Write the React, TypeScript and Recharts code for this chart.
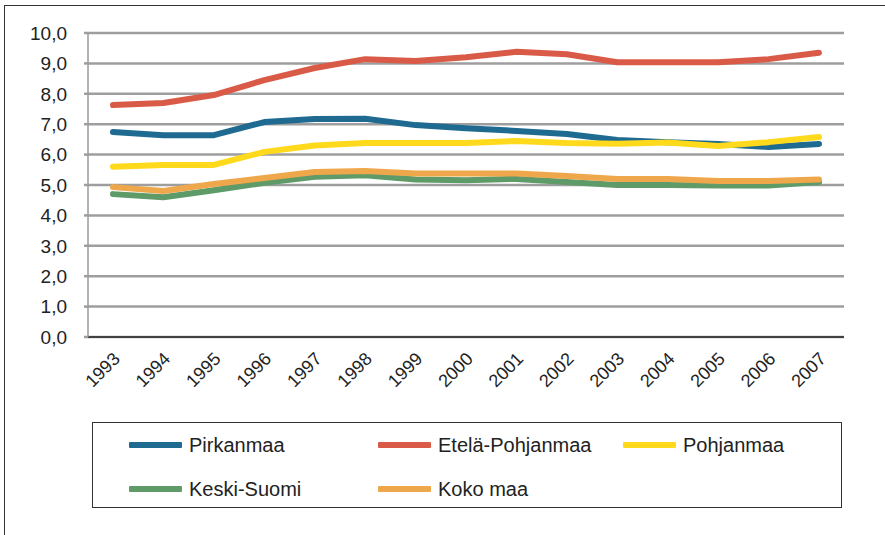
import React from 'react';
import { LineChart, Line, XAxis, YAxis, CartesianGrid } from 'recharts';

const years = ['1993', '1994', '1995', '1996', '1997', '1998', '1999', '2000', '2001', '2002', '2003', '2004', '2005', '2006', '2007'];

const pirkanmaa = [6.74, 6.64, 6.64, 7.07, 7.17, 7.18, 6.97, 6.87, 6.78, 6.68, 6.48, 6.41, 6.35, 6.25, 6.35];
const etelaPohjanmaa = [7.63, 7.7, 7.96, 8.45, 8.85, 9.14, 9.08, 9.2, 9.38, 9.3, 9.04, 9.04, 9.04, 9.14, 9.35];
const pohjanmaa = [5.6, 5.66, 5.66, 6.09, 6.3, 6.38, 6.38, 6.38, 6.45, 6.38, 6.36, 6.4, 6.28, 6.41, 6.58];
const keskiSuomi = [4.7, 4.6, 4.83, 5.07, 5.27, 5.32, 5.18, 5.16, 5.2, 5.1, 5.0, 5.0, 4.98, 4.98, 5.1];
const kokoMaa = [4.93, 4.8, 5.03, 5.23, 5.43, 5.46, 5.38, 5.38, 5.38, 5.3, 5.2, 5.2, 5.13, 5.13, 5.18];

const yTicks = [0, 1, 2, 3, 4, 5, 6, 7, 8, 9, 10];

const series = [
  { key: 'pirkanmaa', name: 'Pirkanmaa', color: '#1F6A91', values: pirkanmaa },
  { key: 'etela', name: 'Etelä-Pohjanmaa', color: '#D95B47', values: etelaPohjanmaa },
  { key: 'pohjanmaa', name: 'Pohjanmaa', color: '#FFD91C', values: pohjanmaa },
  { key: 'keski', name: 'Keski-Suomi', color: '#5F9B69', values: keskiSuomi },
  { key: 'koko', name: 'Koko maa', color: '#EFA74B', values: kokoMaa },
];

// draw order: green and orange first, yellow on top
const drawOrder = ['keski', 'koko', 'pirkanmaa', 'etela', 'pohjanmaa'];

const data = years.map((year, i) => {
  const row: Record<string, string | number> = { year };
  series.forEach((s) => { row[s.key] = s.values[i]; });
  return row;
});

const font = '"Liberation Sans", Arial, sans-serif';

const YearTick = (props: any) => {
  const { x, y, payload } = props;
  return (
    <g transform={`translate(${x + 8},${y + 15})`}>
      <text transform="rotate(-45)" textAnchor="end" fontSize={18} fill="#222" fontFamily={font}>
        {payload.value}
      </text>
    </g>
  );
};

const legendPos = [
  { left: 36, top: 22 },
  { left: 285, top: 22 },
  { left: 530, top: 22 },
  { left: 36, top: 66 },
  { left: 285, top: 66 },
];

export default function App() {
  return (
    <div style={{ position: 'absolute', left: 0, top: 0, width: 885, height: 535, background: '#fff', overflow: 'hidden', fontFamily: font }}>
      <div style={{ position: 'absolute', left: 4, top: 5, width: 900, height: 600, borderLeft: '1.5px solid #333', borderTop: '1.5px solid #333' }} />
      <div style={{ position: 'absolute', left: 0, top: 0 }}>
        <LineChart width={885} height={420} data={data} margin={{ top: 33, right: 41, bottom: 0, left: 0 }}>
          <CartesianGrid vertical={false} stroke="#9E9E9E" strokeWidth={2.5} />
          <XAxis
            dataKey="year"
            padding={{ left: 25, right: 25 }}
            height={83}
            axisLine={{ stroke: '#222', strokeWidth: 1.5 }}
            tickLine={false}
            tick={<YearTick />}
            interval={0}
          />
          <YAxis
            domain={[0, 10]}
            ticks={yTicks}
            width={88}
            axisLine={{ stroke: '#9A9A9A', strokeWidth: 1.5 }}
            tickLine={{ stroke: '#9E9E9E', strokeWidth: 2.5 }}
            tickSize={4}
            tickMargin={17}
            tick={{ fontSize: 19, fill: '#222', fontFamily: font }}
            tickFormatter={(v: number) => v.toFixed(1).replace('.', ',')}
          />
          <YAxis yAxisId="r" orientation="right" width={0} domain={[0, 10]} axisLine={{ stroke: '#222', strokeWidth: 1.5 }} tick={false} tickLine={false} />
          {drawOrder.map((k) => {
            const s = series.find((x) => x.key === k)!;
            return (
              <Line
                key={s.key}
                dataKey={s.key}
                name={s.name}
                type="linear"
                stroke={s.color}
                strokeWidth={6}
                strokeLinejoin="round"
                strokeLinecap="round"
                dot={false}
                activeDot={false}
                isAnimationActive={false}
              />
            );
          })}
        </LineChart>
      </div>
      <div style={{ position: 'absolute', left: 92, top: 422, width: 750, height: 86, border: '1.5px solid #333', boxSizing: 'border-box' }}>
        {series.map((s, i) => (
          <div key={s.key} style={{ position: 'absolute', left: legendPos[i].left, top: legendPos[i].top - 12, height: 24, display: 'flex', alignItems: 'center' }}>
            <div style={{ width: 53, height: 6, background: s.color, borderRadius: 1 }} />
            <span style={{ marginLeft: 7, fontSize: 20, color: '#222', whiteSpace: 'nowrap' }}>{s.name}</span>
          </div>
        ))}
      </div>
    </div>
  );
}
